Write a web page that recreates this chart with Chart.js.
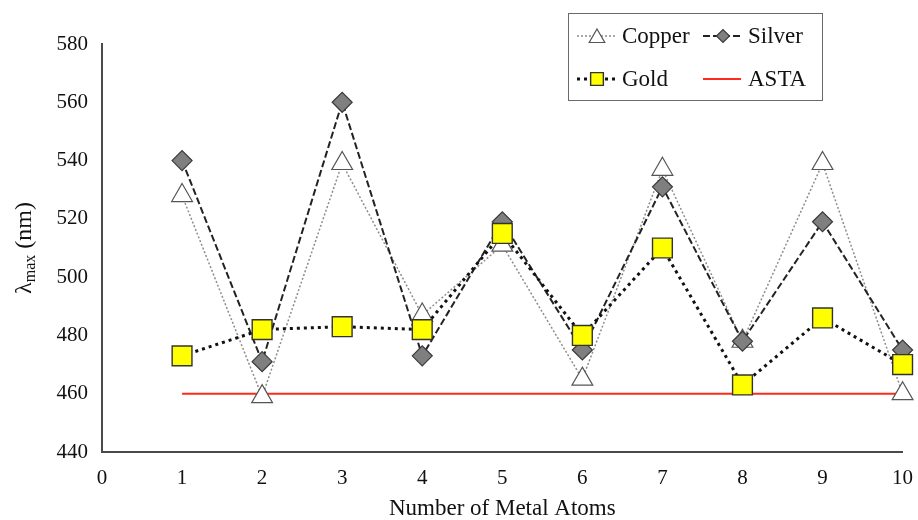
<!DOCTYPE html>
<html>
<head>
<meta charset="utf-8">
<script src="https://cdn.jsdelivr.net/npm/chart.js@4/dist/chart.umd.min.js"></script>
<style>
  html, body { margin: 0; padding: 0; background: #fff; }
  #wrap { width: 918px; height: 520px; }
</style>
</head>
<body>
<div id="wrap"><canvas id="canvas"></canvas></div>
<script>
// data
const atoms = [1, 2, 3, 4, 5, 6, 7, 8, 9, 10];
const copper = [528, 459, 539, 487, 511, 465, 537, 478, 539, 460];
const silver = [540, 471, 560, 473, 519, 475, 531, 478, 519, 475];
const gold   = [473, 482, 483, 482, 515, 480, 510, 463, 486, 470];
const asta   = [460, 460];
const astaRange = [1, 10];
const xTicks = [0, 1, 2, 3, 4, 5, 6, 7, 8, 9, 10];
const yTicks = [440, 460, 480, 500, 520, 540, 560, 580];

const FONT = "'Liberation Serif', 'Times New Roman', serif";
const AXIS = '#4a4a4a';

const toPoints = (xs, ys) => xs.map((x, i) => ({ x: x, y: ys[i] }));

const styles = {
  Copper: { line: '#8c8c8c', width: 1.5, dash: [2, 2], point: 'triangle', r: 12, lr: 9, fill: '#ffffff', border: '#555', bw: 1.2 },
  Silver: { line: '#222', width: 2, dash: [7, 3], point: 'rectRot', r: 10, lr: 6.5, fill: '#7f7f7f', border: '#3a3a3a', bw: 1.2 },
  Gold:   { line: '#111', width: 3, dash: [3, 4], point: 'rect', r: 14, lr: 9, fill: '#ffff00', border: '#333', bw: 1.4 },
  ASTA:   { line: '#ff2a1a', width: 2, dash: [], point: false }
};

// y title with subscript, drawn on the canvas
const yTitle = {
  id: 'yTitle',
  afterDraw(chart) {
    const ctx = chart.ctx;
    const area = chart.chartArea;
    ctx.save();
    ctx.translate(25, (area.top + area.bottom) / 2);
    ctx.rotate(-Math.PI / 2);
    ctx.fillStyle = '#111';
    ctx.textBaseline = 'middle';
    const big = '24px ' + FONT, small = '16px ' + FONT;
    ctx.font = big; const w1 = ctx.measureText('λ').width;
    ctx.font = small; const w2 = ctx.measureText('max').width;
    ctx.font = big; const w3 = ctx.measureText(' (nm)').width;
    let x = -(w1 + w2 + w3) / 2;
    ctx.font = big; ctx.fillText('λ', x, 0); x += w1;
    ctx.font = small; ctx.fillText('max', x, 6); x += w2;
    ctx.font = big; ctx.fillText(' (nm)', x, 0);
    ctx.restore();
  }
};

// boxed two-column legend with line samples, like the original
const boxLegend = {
  id: 'boxLegend',
  afterDraw(chart) {
    const ctx = chart.ctx;
    const bx = 568, by = 13, bw = 254, bh = 87;
    ctx.save();
    ctx.fillStyle = '#fff';
    ctx.fillRect(bx, by, bw, bh);
    ctx.strokeStyle = '#6a6a6a';
    ctx.lineWidth = 1;
    ctx.strokeRect(bx + 0.5, by + 0.5, bw, bh);
    const cells = [[577, 36], [703, 36], [577, 79], [703, 79]];
    chart.data.datasets.forEach((ds, i) => {
      const st = styles[ds.label];
      const [cx, cy] = cells[i];
      ctx.save();
      ctx.strokeStyle = st.line;
      ctx.lineWidth = st.width;
      ctx.setLineDash(st.dash);
      ctx.beginPath();
      ctx.moveTo(cx, cy); ctx.lineTo(cx + 38, cy);
      ctx.stroke();
      ctx.restore();
      if (st.point) {
        ctx.save();
        ctx.fillStyle = st.fill;
        ctx.strokeStyle = st.border;
        ctx.lineWidth = st.bw;
        Chart.helpers.drawPoint(ctx, { pointStyle: st.point, radius: st.lr, borderWidth: st.bw }, cx + 20, cy + (st.point === 'triangle' ? 2 : 0));
        ctx.restore();
      }
      ctx.fillStyle = '#111';
      ctx.font = '23px ' + FONT;
      ctx.textBaseline = 'middle';
      ctx.fillText(ds.label, cx + 45, cy + 1);
    });
    ctx.restore();
  }
};

function mkSet(label, xs, ys, order) {
  const st = styles[label];
  return {
    label: label,
    data: toPoints(xs, ys),
    borderColor: st.line,
    borderWidth: st.width,
    borderDash: st.dash,
    pointStyle: st.point,
    pointRadius: st.point ? st.r : 0,
    pointBackgroundColor: st.fill,
    pointBorderColor: st.border,
    pointBorderWidth: st.bw,
    fill: false,
    tension: 0,
    clip: false,
    order: order
  };
}

new Chart(document.querySelector('#canvas'), {
  type: 'line',
  data: {
    datasets: [
      mkSet('Copper', atoms, copper, 3),
      mkSet('Silver', atoms, silver, 2),
      mkSet('Gold', atoms, gold, 1),
      mkSet('ASTA', astaRange, asta, 4)
    ]
  },
  options: {
    responsive: true,
    maintainAspectRatio: false,
    animation: false,
    layout: { padding: { top: 44, right: 14, left: 0, bottom: 0 } },
    plugins: {
      legend: { display: false },
      tooltip: { enabled: false }
    },
    scales: {
      x: {
        type: 'linear',
        min: 0, max: 10,
        afterBuildTicks: s => { s.ticks = xTicks.map(v => ({ value: v })); },
        afterFit: s => { s.height = 68; s.paddingLeft = 0; s.paddingRight = 0; },
        grid: { display: false, drawOnChartArea: false, drawTicks: true, tickLength: 4, tickColor: AXIS },
        border: { color: AXIS, width: 2 },
        ticks: { color: '#111', font: { family: FONT, size: 21 }, padding: 10, maxRotation: 0 },
        title: { display: true, text: 'Number of Metal Atoms', color: '#111', font: { family: FONT, size: 23 }, padding: { top: 5, bottom: -3 } }
      },
      y: {
        min: 440, max: 580,
        afterBuildTicks: s => { s.ticks = yTicks.map(v => ({ value: v })); },
        afterFit: s => { s.width = 102; s.paddingTop = 0; s.paddingBottom = 0; },
        grid: { display: false, drawOnChartArea: false, drawTicks: true, tickLength: 5, tickColor: AXIS },
        border: { color: AXIS, width: 2 },
        ticks: { color: '#111', font: { family: FONT, size: 21 }, padding: 9 }
      }
    }
  },
  plugins: [yTitle, boxLegend]
});
</script>
</body>
</html>
